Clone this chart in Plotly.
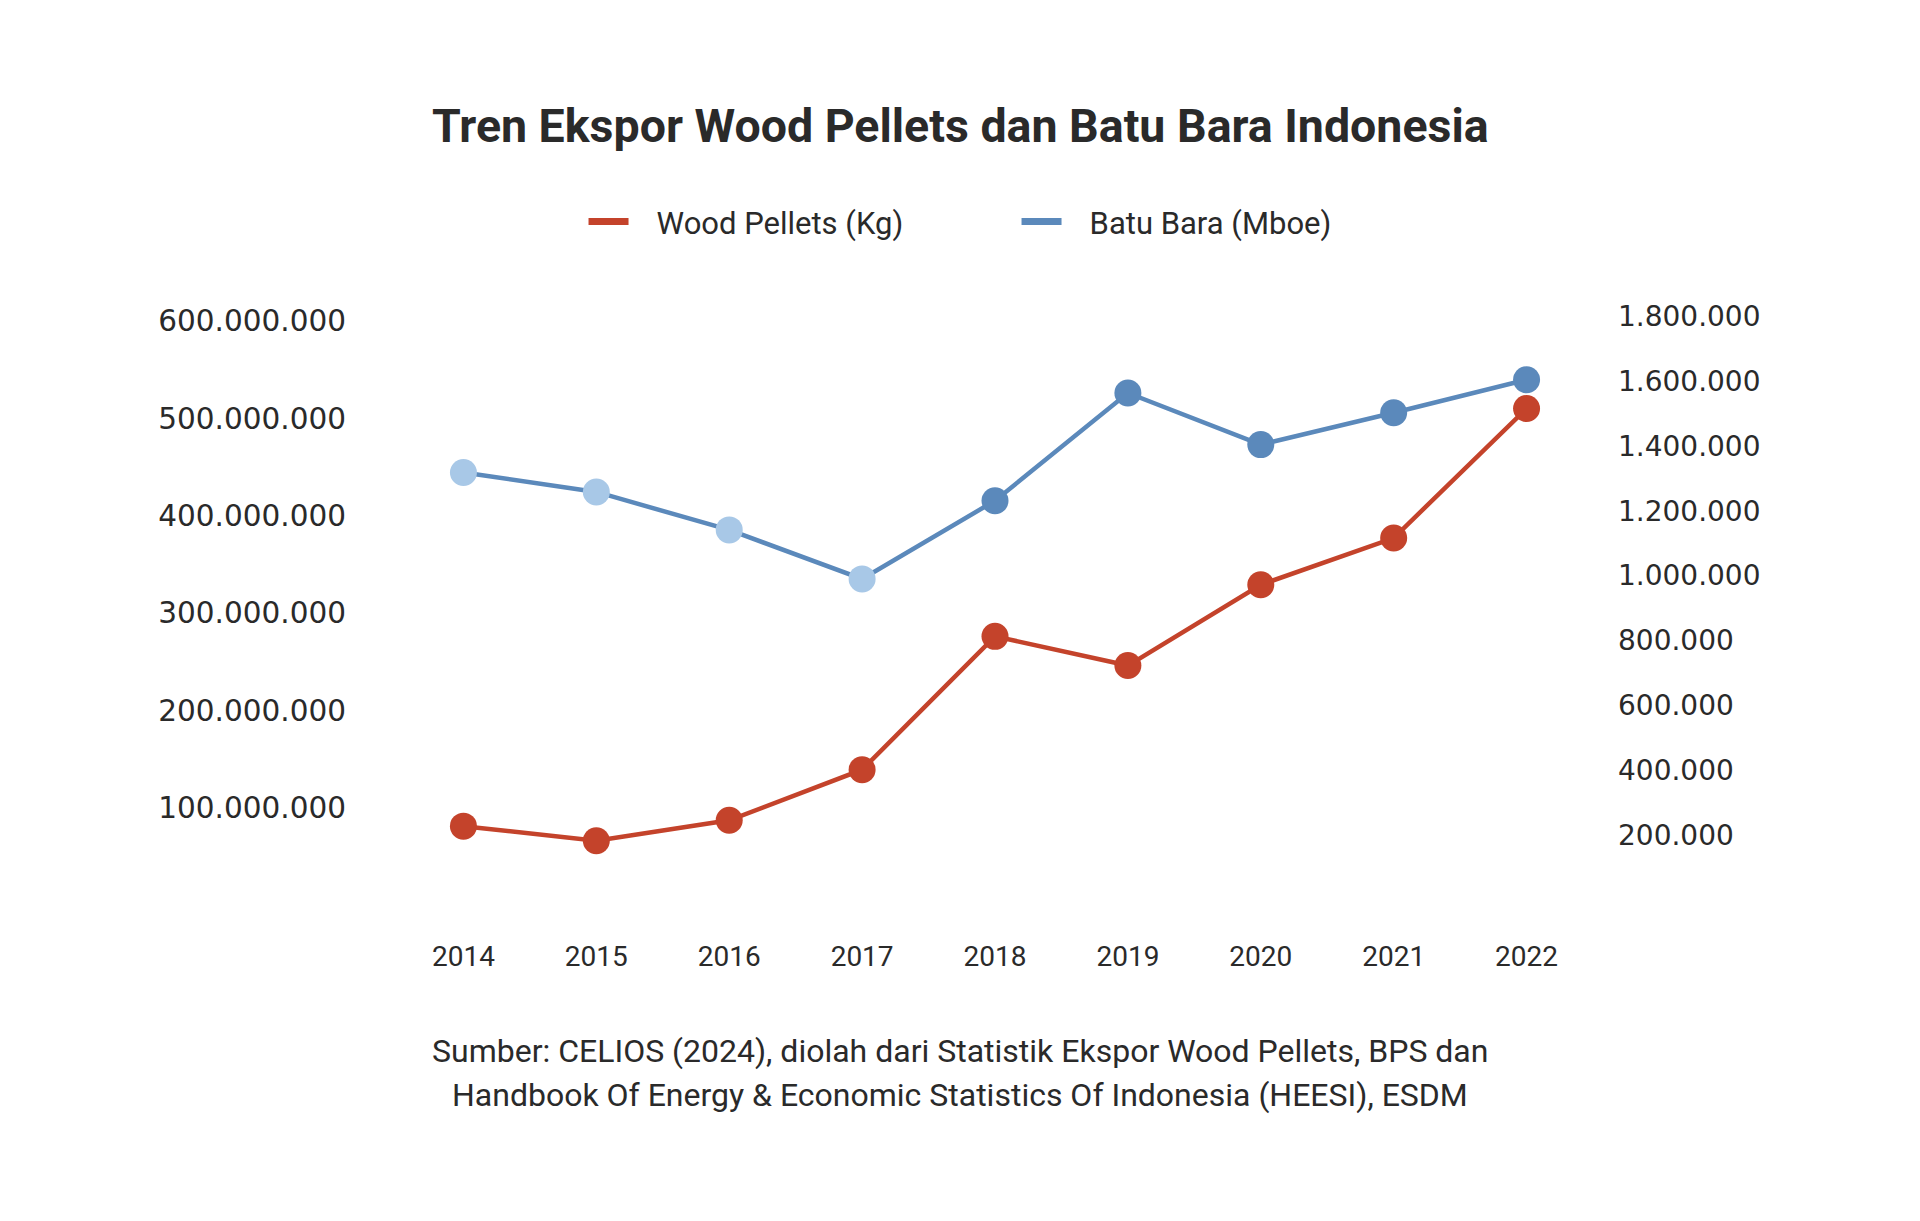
#%% Librerias
import plotly.graph_objects as go

#%% Data
tahun = [2014, 2015, 2016, 2017, 2018, 2019, 2020, 2021, 2022]
wood_pellets_kg = [81e6, 66e6, 87e6, 139e6, 276e6, 246e6, 329e6, 377e6, 510e6]
batu_bara_mboe = [1318000, 1258000, 1141000, 990000, 1231000, 1563000, 1404000, 1502000, 1604000]

left_ticks = [100e6, 200e6, 300e6, 400e6, 500e6, 600e6]
left_labels = ["100.000.000", "200.000.000", "300.000.000", "400.000.000", "500.000.000", "600.000.000"]
right_ticks = [200000, 400000, 600000, 800000, 1000000, 1200000, 1400000, 1600000, 1800000]
right_labels = ["200.000", "400.000", "600.000", "800.000", "1.000.000", "1.200.000", "1.400.000", "1.600.000", "1.800.000"]

sumber_1 = "Sumber: CELIOS (2024), diolah dari Statistik Ekspor Wood Pellets, BPS dan"
sumber_2 = "Handbook Of Energy & Economic Statistics Of Indonesia (HEESI), ESDM"

#%% Colores
MERAH = "#C4432B"
BIRU = "#5B89BB"
BIRU_MUDA = "#A8C8E7"
TEKS = "#2a2a2a"

# los primeros 4 puntos del carbon van en azul claro
warna_batu = [BIRU_MUDA if t <= 2017 else BIRU for t in tahun]

#%% Figura
fig = go.Figure()

fig.add_trace(go.Scatter(
    x=tahun, y=wood_pellets_kg,
    mode="lines+markers",
    line=dict(color=MERAH, width=4.5),
    marker=dict(size=27, color=MERAH),
    showlegend=False,
    yaxis="y",
))

fig.add_trace(go.Scatter(
    x=tahun, y=batu_bara_mboe,
    mode="lines+markers",
    line=dict(color=BIRU, width=4.5),
    marker=dict(size=27, color=warna_batu),
    showlegend=False,
    yaxis="y2",
))

# entradas de leyenda solo con linea
sp = "\u00a0\u00a0\u00a0"
fig.add_trace(go.Scatter(x=[None], y=[None], mode="lines",
                         line=dict(color=MERAH, width=7), name=sp + "Wood Pellets (Kg)"))
fig.add_trace(go.Scatter(x=[None], y=[None], mode="lines",
                         line=dict(color=BIRU, width=7), name=sp + "Batu Bara (Mboe)"))

fig.update_layout(
    width=1920, height=1221,
    margin=dict(l=389, r=335, t=308, b=324),
    paper_bgcolor="white", plot_bgcolor="white",
    title=dict(
        text="<b>Tren Ekspor Wood Pellets dan Batu Bara Indonesia</b>",
        x=0.496, xanchor="center", y=1 - 118 / 1221, yanchor="middle",
        font=dict(family="Roboto", size=46.5, color=TEKS),
    ),
    legend=dict(
        orientation="h", x=0.518, xanchor="center", y=1.160, yanchor="middle",
        font=dict(family="Roboto", size=31, color=TEKS),
        itemwidth=40, entrywidth=378, entrywidthmode="pixels",
    ),
    xaxis=dict(
        range=[2013.5, 2022.5], tickvals=tahun,
        showgrid=False, zeroline=False, showline=False, ticks="",
        tickfont=dict(family="Roboto", size=28, color=TEKS),
        ticklabelstandoff=32,
    ),
    yaxis=dict(
        range=[0, 605.1e6], tickvals=left_ticks, ticktext=left_labels,
        showgrid=False, zeroline=False, showline=False, ticks="",
        tickfont=dict(family="DejaVu Sans", size=29.5, color=TEKS),
        ticklabelstandoff=50,
    ),
    yaxis2=dict(
        range=[-15000, 1800300], tickvals=right_ticks, ticktext=right_labels,
        overlaying="y", side="right",
        showgrid=False, zeroline=False, showline=False, ticks="",
        tickfont=dict(family="DejaVu Sans", size=28, color=TEKS),
        ticklabelstandoff=24,
    ),
)

fig.add_annotation(text=sumber_1, xref="paper", yref="paper", x=0.471, y=-0.284,
                   showarrow=False, font=dict(family="Roboto", size=32, color=TEKS))
fig.add_annotation(text=sumber_2, xref="paper", yref="paper", x=0.471, y=-0.359,
                   showarrow=False, font=dict(family="Roboto", size=32, color=TEKS))

fig.write_html("out.html")
